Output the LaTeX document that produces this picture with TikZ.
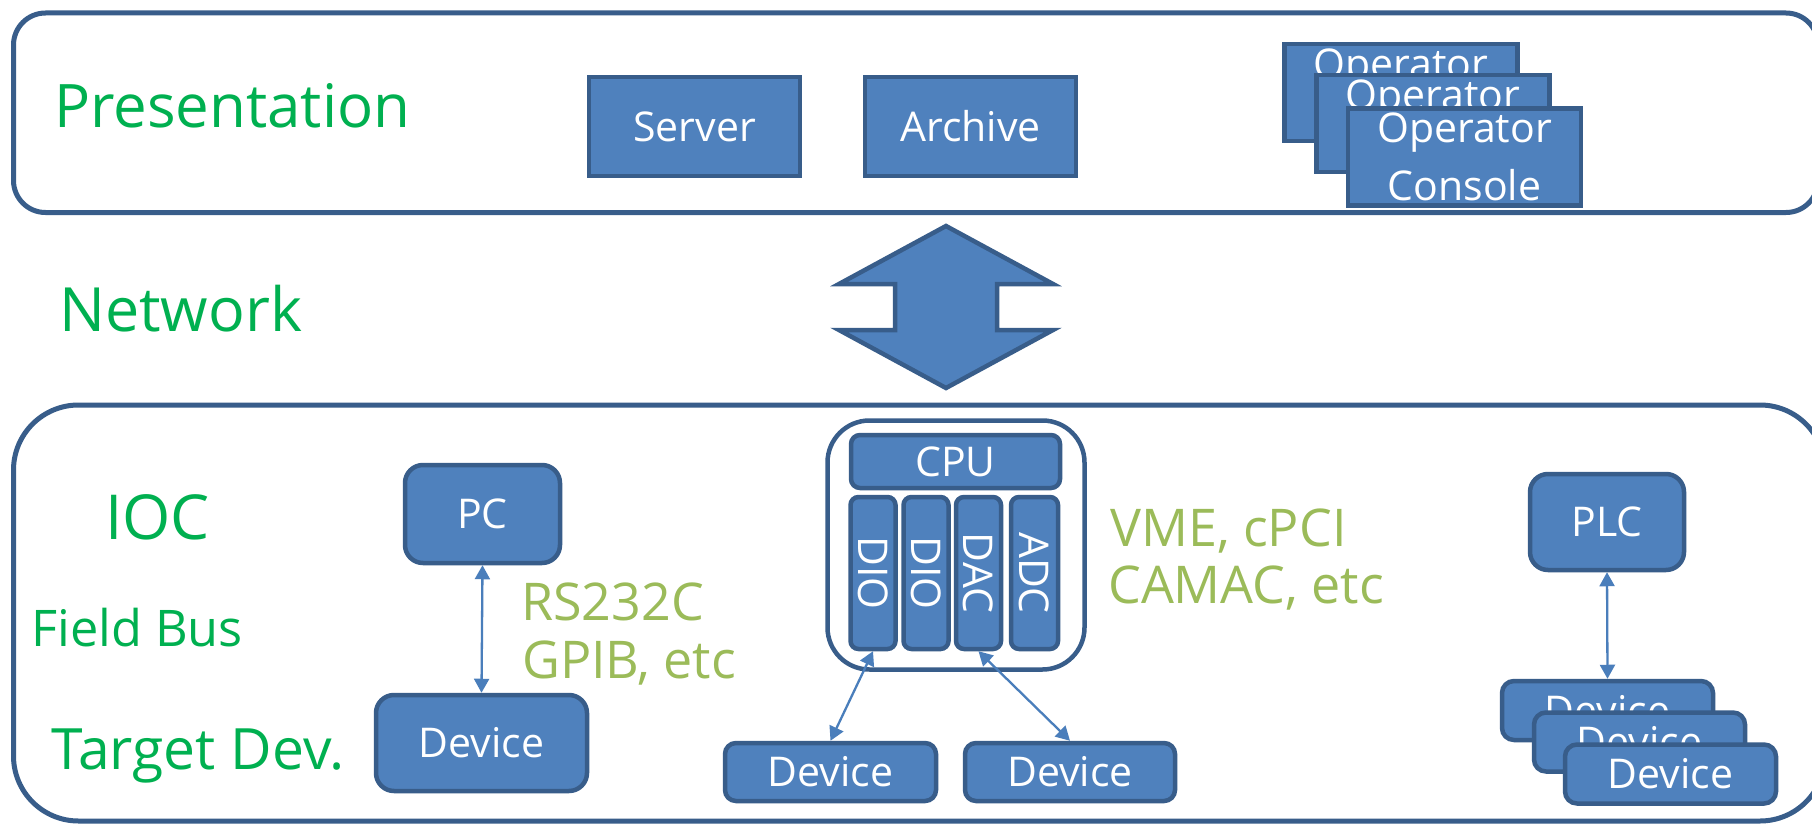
\documentclass[tikz,border=0pt]{standalone}
\usepackage{fontspec}
\setmainfont{Open Sans}
\usetikzlibrary{arrows.meta}
\definecolor{fillblue}{HTML}{4F81BD}
\definecolor{edgeblue}{HTML}{385D8A}
\definecolor{linkblue}{HTML}{4A7EBB}
\definecolor{labelgreen}{HTML}{00B050}
\definecolor{busgreen}{HTML}{9BBB59}
\newcommand{\fsz}[2]{\fontsize{#1}{#2}\selectfont}
\begin{document}
\begin{tikzpicture}[x=1pt,y=-1pt,
  outerframe/.style={draw=edgeblue, line width=5pt, inner sep=0pt, outer sep=0pt},
  blk/.style={draw=edgeblue, fill=fillblue, line width=4.5pt, text=white, inner sep=0pt, font=\fsz{41}{48}},
  rblk/.style={blk, rounded corners=#1},
  optxt/.style={text=white, align=center, inner sep=0pt, font=\fsz{41}{58}},
  link/.style={draw=linkblue, line width=2.3pt, <->, >={Triangle[length=14pt,width=15pt]}},
  lbl/.style={text=labelgreen, anchor=base west, inner sep=0pt},
  bus/.style={text=busgreen, anchor=base west, inner sep=0pt, font=\fsz{52}{58}},
  bigarrow/.style={draw=edgeblue, fill=fillblue, line width=4.5pt, line join=miter}
]
\useasboundingbox (0,0) rectangle (1812,824);
\fill[white] (0,0) rectangle (1812,824);
\clip (0,0) rectangle (1812,824);

% Presentation layer
\node[outerframe, rounded corners=32pt, minimum width=1804.5, minimum height=199.5] (pres) at (915.75,112.75) {};
\node[lbl, font=\fsz{60}{70}] (tpres) at (54,128) {Presentation};
\node[blk, minimum width=211, minimum height=99] (server) at (694.5,126.5) {Server};
\node[blk, minimum width=211, minimum height=99] (archive) at (970.5,126.5) {Archive};
\node[blk, minimum width=233, minimum height=97] (op1) at (1401,92.5) {};
\node[optxt] (op1t) at (op1.center) {Operator\\Console};
\node[blk, minimum width=233, minimum height=97] (op2) at (1433,123.5) {};
\node[optxt] (op2t) at (op2.center) {Operator\\Console};
\node[blk, minimum width=233, minimum height=97] (op3) at (1464.5,157) {};
\node[optxt] (op3t) at (op3.center) {Operator\\Console};

% Network
\node[lbl, font=\fsz{61}{72}] (tnet) at (59,331) {Network};
\draw[bigarrow] (946,226) -- (1053,284) -- (997,284) -- (997,330) -- (1053,330)
  -- (946,388) -- (839,330) -- (895,330) -- (895,284) -- (839,284) -- cycle;

% IOC layer
\node[outerframe, rounded corners=65pt, minimum width=1811.5, minimum height=416] (ioc) at (919.25,613) {};
\node[lbl, font=\fsz{62}{72}] (tioc) at (105,539) {IOC};
\node[lbl, font=\fsz{50.5}{60}] (tfield) at (31,646) {Field Bus};
\node[lbl, font=\fsz{57}{66}] (ttarget) at (51,769) {Target Dev.};

% PC branch
\node[rblk=18pt, minimum width=155, minimum height=98] (pc) at (482.5,514) {PC};
\node[rblk=18pt, minimum width=211, minimum height=96] (devA) at (481.5,743) {Device};
\draw[link] (pc.south) -- (devA.north);
\node[bus] (rs1) at (521,620) {RS232C};
\node[bus] (rs2) at (522,678) {GPIB, etc};

% VME rack
\node[draw=edgeblue, line width=4.5pt, rounded corners=42pt, minimum width=257, minimum height=249, inner sep=0pt] (rack) at (956,545) {};
\node[rblk=9pt, minimum width=209, minimum height=53] (cpu) at (955.5,461.5) {CPU};
\node[rblk=8pt, rotate=-90, minimum width=152, minimum height=45] (dio1) at (873,573) {DIO};
\node[rblk=8pt, rotate=-90, minimum width=152, minimum height=45] (dio2) at (926,573) {DIO};
\node[rblk=8pt, rotate=-90, minimum width=152, minimum height=45] (dac) at (978.5,573) {DAC};
\node[rblk=8pt, rotate=-90, minimum width=152, minimum height=47] (adc) at (1034.5,573) {ADC};
\node[rblk=11pt, minimum width=211, minimum height=58] (devB) at (830.5,772) {Device};
\node[rblk=11pt, minimum width=210, minimum height=58] (devC) at (1070,772) {Device};
\draw[link] (dio1.east) -- (devB.north);
\draw[link] (dac.east) -- (devC.north);
\node[bus] (vme1) at (1110,546) {VME, cPCI};
\node[bus] (vme2) at (1108,603) {CAMAC, etc};

% PLC branch
\node[rblk=18pt, minimum width=154, minimum height=96] (plc) at (1607,522) {PLC};
\node[rblk=12pt, minimum width=211, minimum height=59] (pd1) at (1607.5,710.5) {Device};
\node[rblk=12pt, minimum width=211, minimum height=59] (pd2) at (1639.5,742) {Device};
\node[rblk=12pt, minimum width=211, minimum height=59] (pd3) at (1670.5,774) {Device};
\draw[link] (plc.south) -- (pd1.north);
\end{tikzpicture}
\end{document}
